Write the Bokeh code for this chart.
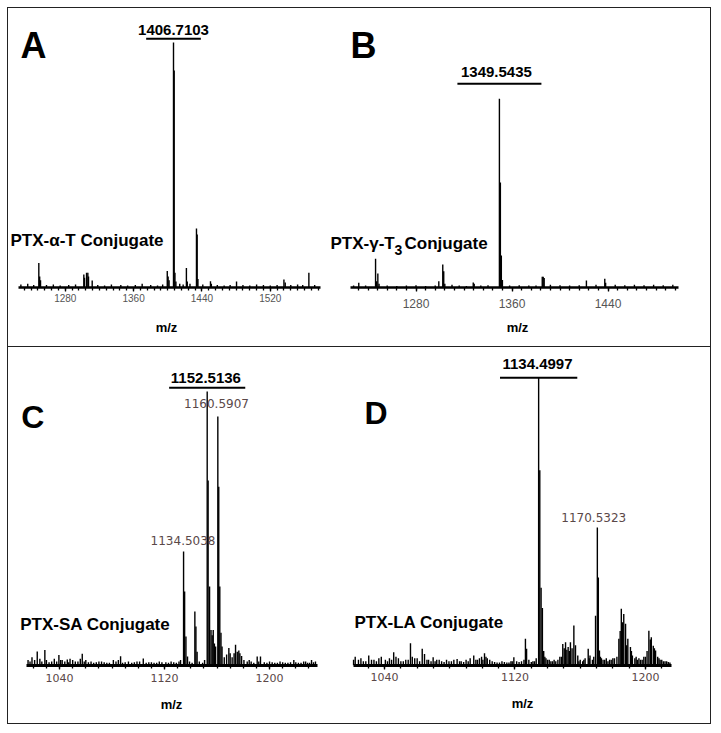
from bokeh.plotting import figure
from bokeh.layouts import row, column
from bokeh.models import Range1d, FixedTicker, Label, ColumnDataSource
from bokeh.embed import file_html
from bokeh.resources import INLINE

# ---------------- data (m/z, relative intensity %) ----------------
a_mz = [1228, 1236, 1243, 1249, 1250, 1251, 1258, 1266, 1274, 1284, 1292, 1301.7, 1302.5,
        1304.9, 1306.4, 1307.2, 1311.5, 1318, 1326, 1334, 1345, 1353, 1362, 1370, 1380, 1388,
        1394, 1399.4, 1400.4, 1401.5, 1406.7, 1407.5, 1408.4, 1409.5, 1414, 1418, 1421.8, 1422.8,
        1426, 1433.6, 1434.4, 1435.3, 1441, 1450, 1451, 1458, 1466, 1473, 1480.5, 1488, 1496,
        1504, 1512, 1520, 1528, 1536, 1537.5, 1544, 1552, 1558, 1565.2, 1572]
a_int = [1.2, 1.5, 1.0, 10.0, 4.5, 3.0, 1.0, 1.2, 0.8, 1.0, 1.2, 5.3, 4.0,
         6.0, 6.0, 4.5, 2.9, 1.0, 0.8, 1.2, 1.0, 0.8, 1.0, 1.5, 1.0, 0.8,
         1.2, 6.7, 4.5, 3.0, 100.0, 88.6, 6.0, 2.5, 1.5, 1.2, 8.0, 2.5,
         1.5, 24.1, 21.6, 3.5, 1.2, 2.6, 1.5, 1.0, 0.8, 1.0, 2.5, 1.0, 0.8,
         1.2, 1.0, 0.8, 1.0, 3.3, 2.0, 1.0, 1.2, 1.0, 6.0, 1.0]

b_mz = [1228, 1232.3, 1238, 1246.3, 1247.2, 1248.2, 1249.2, 1256, 1264, 1272, 1280, 1288,
        1296, 1299, 1302.3, 1303.1, 1304, 1310, 1316, 1322, 1327.7, 1328.5, 1334, 1340,
        1349.5, 1350.3, 1351.1, 1352, 1358, 1366, 1374, 1380, 1385.2, 1386.0, 1386.8, 1392,
        1400, 1408, 1416, 1422, 1430, 1437.3, 1438, 1446, 1454, 1462, 1470, 1478, 1486, 1494]
b_int = [1.0, 2.5, 1.0, 15.2, 3.3, 7.4, 2.0, 1.0, 0.8, 1.0, 1.2, 0.8,
         1.0, 3.3, 12.2, 8.6, 2.0, 1.5, 1.0, 0.8, 2.6, 2.0, 1.0, 1.2,
         100.0, 55.6, 17.0, 4.0, 1.0, 1.2, 1.0, 1.0, 5.7, 5.7, 5.0, 1.5,
         1.2, 1.0, 1.2, 3.7, 1.5, 4.6, 2.5, 1.5, 1.2, 1.5, 1.2, 1.5, 1.2, 1.5]

c_mz = [1016, 1019, 1023, 1025, 1028.8, 1030, 1034, 1039.5, 1042, 1045.9, 1048, 1052, 1057.3,
        1060, 1064, 1068, 1072, 1076, 1081, 1086.5, 1090, 1095, 1099, 1103.8, 1108, 1112, 1116,
        1121, 1125, 1129, 1132.2, 1134.5, 1135.3, 1136.3, 1137.5, 1139, 1141, 1143.1, 1143.9,
        1144.8, 1146.5, 1149, 1150.5, 1152.5, 1153.2, 1154.3, 1155.4, 1156.3, 1157.1, 1158.0,
        1158.9, 1160.6, 1161.3, 1162.1, 1163.0, 1163.8, 1165.5, 1167.3, 1169, 1170, 1171.5, 1173,
        1174.1, 1175.4, 1176.6, 1177.4, 1178.7, 1180.5, 1183, 1186, 1188, 1190.6, 1193.1, 1196,
        1200, 1204, 1208, 1212, 1216, 1218.5, 1222, 1226, 1229, 1232, 1235]
c_int = [2.0, 3.0, 5.1, 2.5, 5.7, 2.0, 1.5, 3.8, 2.0, 2.2, 2.5, 1.5, 4.3,
         2.0, 1.5, 1.2, 1.5, 1.0, 2.0, 3.4, 1.2, 1.0, 1.5, 2.6, 1.2, 1.0, 1.5,
         1.2, 1.5, 1.0, 2.0, 41.6, 27.0, 10.6, 3.3, 1.5, 1.0, 19.7, 14.2,
         5.0, 1.5, 1.0, 2.0, 100.0, 67.5, 28.8, 13.0, 11.0, 13.0, 8.0,
         6.9, 90.9, 65.3, 28.8, 12.0, 6.9, 3.0, 4.0, 6.4, 4.5, 3.0, 4.5,
         7.6, 5.0, 5.5, 4.5, 3.5, 2.0, 1.5, 1.5, 1.0, 3.3, 3.3, 1.2,
         1.5, 1.0, 1.5, 1.0, 1.2, 2.0, 1.0, 1.5, 1.0, 2.0, 1.5]
c_noise_mz = [1017.5, 1021, 1026.5, 1032, 1036, 1037.8, 1040.8, 1044, 1047, 1050, 1054, 1055.8,
              1058.8, 1062, 1066, 1070, 1074, 1078, 1083, 1084.8, 1088, 1092.5, 1097, 1101, 1106,
              1110, 1114, 1118, 1123, 1127, 1131, 1184.5, 1191.8, 1198, 1202, 1206, 1210, 1214,
              1220, 1224, 1227.5, 1230.5, 1233.5]
c_noise_int = [1.5, 2.0, 1.5, 1.2, 2.5, 1.5, 2.0, 1.5, 1.2, 2.0, 1.5, 2.5,
               1.5, 1.2, 1.0, 1.5, 1.2, 1.0, 1.5, 2.0, 1.0, 1.5, 1.2, 1.5, 1.0,
               1.2, 1.0, 1.2, 1.0, 1.2, 1.5, 2.0, 1.5, 1.0, 1.2, 1.0, 1.2, 1.0,
               1.2, 1.0, 1.5, 1.0, 1.2]

d_mz = [1022, 1024, 1027, 1030.3, 1032, 1035, 1038, 1040.5, 1043, 1045.6, 1047, 1050, 1053,
        1055.9, 1057, 1060, 1063.1, 1064.5, 1067, 1069.8, 1072, 1075, 1078, 1081, 1084.5, 1087,
        1090, 1092.5, 1094.7, 1097, 1099.5, 1101.3, 1103, 1106, 1109, 1112, 1115, 1117.5, 1119.3,
        1121, 1124, 1126.4, 1127.1, 1128.5, 1131, 1133, 1134.5, 1135.2, 1136.0, 1136.8, 1137.6,
        1139, 1141, 1143, 1145, 1147.5, 1149.3, 1150.2, 1151, 1151.8, 1152.6, 1153.3, 1154, 1155,
        1156.1, 1157.1, 1158.5, 1160, 1161.5, 1163, 1164.9, 1166, 1167.5, 1169.4, 1170.5, 1171.1,
        1171.8, 1173, 1175, 1177, 1179, 1181, 1182.5, 1183.7, 1184.5, 1185.2, 1186, 1186.7, 1187.8,
        1189.2, 1190.8, 1192, 1193.5, 1195, 1197, 1199, 1201, 1202.1, 1203, 1203.6, 1204.8, 1206.2,
        1207.5, 1209, 1211, 1213, 1215]
d_int = [3.0, 2.0, 1.5, 3.5, 2.0, 1.5, 3.0, 2.0, 2.5, 4.6, 3.0, 1.5, 2.0,
         7.7, 3.0, 2.5, 5.8, 4.0, 2.0, 2.9, 2.0, 1.5, 2.0, 1.5, 2.3, 1.5,
         2.0, 2.5, 3.5, 2.0, 3.0, 4.3, 2.5, 1.5, 1.0, 1.5, 1.0, 1.5, 2.9,
         1.5, 1.5, 9.3, 5.8, 2.0, 1.5, 2.5, 100.0, 67.9, 27.0, 20.0, 5.0,
         2.5, 2.0, 1.5, 1.5, 3.0, 7.5, 6.0, 8.1, 5.5, 6.4, 5.0, 8.1, 6.0,
         13.9, 7.0, 3.5, 2.0, 1.5, 2.5, 5.8, 3.5, 2.0, 17.3, 48.0, 30.6,
         5.2, 2.5, 2.0, 1.5, 2.0, 2.5, 3.0, 9.3, 12.0, 19.7, 15.0, 17.9, 14.5,
         9.3, 6.4, 3.5, 2.5, 2.0, 2.0, 3.0, 5.0, 12.1, 9.0, 9.8, 6.9, 5.2,
         3.0, 2.0, 1.5, 1.5, 1.0]
d_noise_mz = [1021, 1025.5, 1028.5, 1033.5, 1036.5, 1041.8, 1044.3, 1048.5, 1051.5, 1054.5,
              1058.5, 1061.5, 1066, 1068.5, 1071, 1073.5, 1076.5, 1079.5, 1082.5, 1086, 1088.5,
              1091.3, 1096, 1098.2, 1100.3, 1102.2, 1104.5, 1107.5, 1110.5, 1113.5, 1116.3,
              1118.3, 1122.5, 1125.5, 1130, 1132, 1138.3, 1140, 1142, 1144, 1146.3, 1148.5,
              1159.2, 1162.2, 1165.5, 1168.3, 1172.4, 1174, 1176, 1178, 1180, 1188.5, 1191.4,
              1194.3, 1196, 1198, 1200, 1205.5, 1208.3, 1210, 1212, 1214]
d_noise_int = [2.0, 2.5, 1.5, 2.0, 2.5, 1.5, 2.0, 2.5, 1.5, 2.0,
               2.5, 1.5, 2.0, 1.5, 1.5, 2.0, 1.2, 1.5, 2.0, 1.5, 1.2,
               1.5, 2.0, 2.5, 2.0, 3.0, 2.0, 1.2, 1.0, 1.2, 1.0,
               1.5, 1.2, 2.0, 1.2, 1.5, 3.0, 2.0, 1.5, 2.0, 2.0, 3.0,
               1.5, 2.0, 2.5, 3.0, 3.0, 2.0, 2.5, 2.0, 2.5, 7.0, 5.0,
               3.0, 2.5, 2.0, 3.0, 6.0, 2.5, 2.0, 1.5, 1.2]

a_ticks = [1280, 1360, 1440, 1520]
b_ticks = [1280, 1360, 1440]
c_ticks = [1040, 1120, 1200]
d_ticks = [1040, 1120, 1200]

a_peak = (1406.7, "1406.7103")
b_peak = (1349.5, "1349.5435")
c_peak = (1152.5, "1152.5136")
d_peak = (1134.5, "1134.4997")
c_sub = [(1160.6, "1160.5907"), (1134.5, "1134.5038")]
d_sub = [(1170.5, "1170.5323")]

FONT = "Liberation Sans"
SUBCOL = "#5a4848"


def panel(width, height, xr, ytop, bottom, ticks, minor, bounds,
          tfont, tsize, tcolor, tstand, lstand, mz, inten, lw=2.5):
    p = figure(width=width, height=height, x_range=Range1d(*xr), y_range=Range1d(0, ytop),
               output_backend="svg", toolbar_location=None, y_axis_location=None,
               min_border_left=0, min_border_right=0, min_border_top=0,
               min_border_bottom=bottom)
    p.outline_line_color = None
    p.grid.visible = False
    p.background_fill_color = "white"
    p.border_fill_color = "white"
    ax = p.xaxis[0]
    ax.ticker = FixedTicker(ticks=ticks, minor_ticks=minor)
    ax.bounds = bounds
    ax.axis_line_width = lw
    ax.axis_line_color = "black"
    ax.major_tick_out = 4
    ax.major_tick_in = 0
    ax.minor_tick_out = 3
    ax.minor_tick_in = 0
    ax.major_tick_line_width = 1.3
    ax.minor_tick_line_width = 1.3
    ax.major_label_text_font = tfont
    ax.major_label_text_font_size = tsize
    ax.major_label_text_color = tcolor
    ax.major_label_standoff = tstand
    ax.axis_label = "m/z"
    ax.axis_label_text_font = FONT
    ax.axis_label_text_font_style = "bold"
    ax.axis_label_text_font_size = "13px"
    ax.axis_label_text_color = "black"
    ax.axis_label_standoff = lstand
    src = ColumnDataSource(dict(mz=mz, inten=inten))
    p.segment(x0="mz", y0=0, x1="mz", y1="inten", source=src,
              line_color="black", line_width=1.4)
    return p


def txt(p, x, y, text, size, bold=True, align="left", units="screen", color="black", font=FONT):
    p.add_layout(Label(x=x, y=y, x_units=units, y_units=units, text=text,
                       text_font=font, text_font_size=size,
                       text_font_style="bold" if bold else "normal",
                       text_color=color, text_align=align, text_baseline="alphabetic"))


def bracket(p, peak, label_x, label_y, line_y, half):
    txt(p, label_x, label_y, peak[1], "15px", align="center", units="data")
    p.segment(x0=[peak[0] - half], y0=[line_y], x1=[peak[0] + half], y1=[line_y],
              line_color="black", line_width=2)


# ---------------- Panel A ----------------
pA = panel(316, 338, (1213.5, 1583.5), 113.9, 59, a_ticks, list(range(1232, 1580, 8)),
           (1225, 1579), FONT, "10px", "#555555", 2, 15, a_mz, a_int)
txt(pA, 12, 242, "A", "36px")
txt(pA, 2, 46.6, "PTX-α-T Conjugate", "17px")
bracket(pA, a_peak, a_peak[0], 105.3, 101.6, 32)

# ---------------- Panel B ----------------
pB = panel(386, 338, (1203.75, 1525.4), 147.9, 59, b_ticks, list(range(1232, 1499, 8)),
           (1225.4, 1498.75), FONT, "12px", "#555555", 7, 9, b_mz, b_int)
txt(pB, 26, 242, "B", "36px")
txt(pB, 6, 44, "PTX-γ-T", "17px")
txt(pB, 70, 38, "3", "14px")
txt(pB, 80, 44, "Conjugate", "17px")
bracket(pB, b_peak, 1347.0, 114.4, 108.0, 35)

# ---------------- Panel C ----------------
pC = panel(326, 376, (1001.1, 1249.5), 116.1, 58, c_ticks, list(range(1020, 1237, 10)),
           (1014.9, 1236.6), "DejaVu Sans", "11px", SUBCOL, 4, 12,
           c_mz + c_noise_mz, c_int + c_noise_int, lw=3)
txt(pC, 12.7, 248.9, "C", "32px")
txt(pC, 11.7, 40.6, "PTX-SA Conjugate", "17px")
bracket(pC, c_peak, 1151.5, 105.0, 101.4, 29)
txt(pC, 1159.6, 95.7, c_sub[0][1], "12px", bold=False, align="center", units="data",
    color=SUBCOL, font="DejaVu Sans")
txt(pC, 1134.1, 45.7, c_sub[1][1], "12px", bold=False, align="center", units="data",
    color=SUBCOL, font="DejaVu Sans")

# ---------------- Panel D ----------------
pD = panel(376, 376, (1009.3, 1239.9), 110.6, 57, d_ticks, list(range(1030, 1216, 10)),
           (1020.7, 1216), "DejaVu Sans", "11px", SUBCOL, 3, 12,
           d_mz + d_noise_mz, d_int + d_noise_int, lw=3)
txt(pD, 30, 252.6, "D", "32px")
txt(pD, 20, 42.6, "PTX-LA Conjugate", "17px")
bracket(pD, d_peak, 1133.8, 104.7, 100.1, 23.7)
txt(pD, 1168.3, 51.6, d_sub[0][1], "12px", bold=False, align="center", units="data",
    color=SUBCOL, font="DejaVu Sans")

top = row(pA, pB, styles={"border-bottom": "1px solid #222"})
bottom = row(pC, pD)
layout = column(top, bottom, styles={"border": "1px solid #222", "margin-left": "7px",
                                     "margin-top": "7px"})

open("out.html", "w").write(file_html(layout, INLINE))
